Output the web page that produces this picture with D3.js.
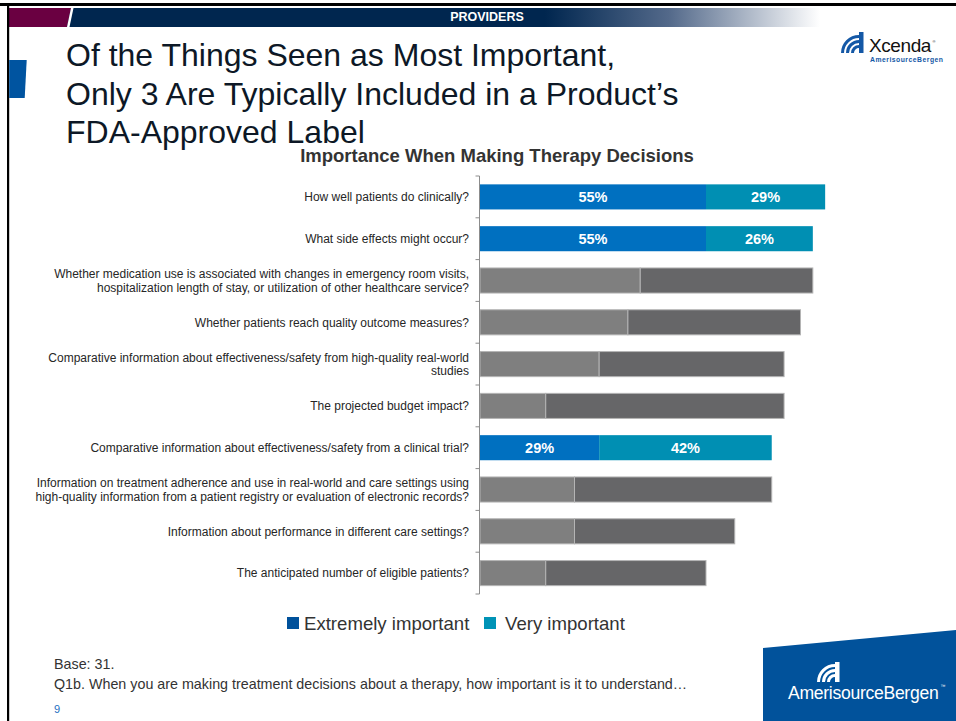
<!DOCTYPE html>
<html>
<head>
<meta charset="utf-8">
<script src="https://cdn.jsdelivr.net/npm/d3@7/dist/d3.min.js"></script>
<style>
  html, body { margin: 0; padding: 0; background: #fff; }
  svg { display: block; font-family: "Liberation Sans", Arial, sans-serif; }
</style>
</head>
<body>
<svg id="slide" width="956" height="721"></svg>
<script>
// Survey items (each entry is the wrapped label lines)
const categories = [
  ["How well patients do clinically?"],
  ["What side effects might occur?"],
  ["Whether medication use is associated with changes in emergency room visits,",
   "hospitalization length of stay, or utilization of other healthcare service?"],
  ["Whether patients reach quality outcome measures?"],
  ["Comparative information about effectiveness/safety from high-quality real-world",
   "studies"],
  ["The projected budget impact?"],
  ["Comparative information about effectiveness/safety from a clinical trial?"],
  ["Information on treatment adherence and use in real-world and care settings using",
   "high-quality information from a patient registry or evaluation of electronic records?"],
  ["Information about performance in different care settings?"],
  ["The anticipated number of eligible patients?"]
];
// Percent of respondents (Base: 31)
const extremelyImportant = [55, 55, 39, 36, 29, 16, 29, 23, 23, 16];
const veryImportant      = [29, 26, 42, 42, 45, 58, 42, 48, 39, 39];
// Items that are typically included in the FDA-approved label
const onLabel = [true, true, false, false, false, false, true, false, false, false];

const seriesNames = ["Extremely important", "Very important"];
const titleLines = [
  "Of the Things Seen as Most Important,",
  "Only 3 Are Typically Included in a Product\u2019s",
  "FDA-Approved Label"
];

const svg = d3.select("#slide");

// ---------- slide frame ----------
const defs = svg.append("defs");
const grad = defs.append("linearGradient").attr("id", "bannerFade")
  .attr("gradientUnits", "userSpaceOnUse")
  .attr("x1", 545).attr("x2", 820).attr("y1", 0).attr("y2", 0);
grad.append("stop").attr("offset", 0).attr("stop-color", "#00264f");
grad.append("stop").attr("offset", 0.45).attr("stop-color", "#53698a");
grad.append("stop").attr("offset", 1).attr("stop-color", "#ffffff");

svg.append("rect").attr("x", 0).attr("y", 0).attr("width", 956).attr("height", 721).attr("fill", "#fff");
// banner
svg.append("rect").attr("x", 9).attr("y", 8).attr("width", 947).attr("height", 19).attr("fill", "url(#bannerFade)");
svg.append("polygon").attr("points", "9,8 71,8 67,27 9,27").attr("fill", "#6a0041");
svg.append("polygon").attr("points", "71,8 73.5,8 69.5,27 67,27").attr("fill", "#fff");
svg.append("text").attr("x", 487).attr("y", 21).attr("text-anchor", "middle")
  .attr("font-size", 12.5).attr("font-weight", "bold").attr("fill", "#fff").text("PROVIDERS");
// black border (top and left)
svg.append("rect").attr("x", 0).attr("y", 3).attr("width", 956).attr("height", 3).attr("fill", "#000");
svg.append("rect").attr("x", 7).attr("y", 3).attr("width", 2.2).attr("height", 718).attr("fill", "#000");
// left accent block
svg.append("polygon").attr("points", "9.2,60 26.7,60 24.7,98 9.2,98").attr("fill", "#0054a0");

// slide title
svg.append("text").attr("x", 66).attr("font-size", 32).attr("fill", "#0d1826")
  .selectAll("tspan").data(titleLines).join("tspan")
  .attr("x", 66).attr("y", (d, i) => 66 + i * 38.6).text(d => d);

// Xcenda logo (top right)
const xl = svg.append("g").attr("transform", "translate(843,31)");
xl.append("rect").attr("x", 16).attr("y", 1).attr("width", 4.5).attr("height", 21).attr("fill", "#1458a6");
[18, 13, 8].forEach(r => {
  xl.append("path")
    .attr("d", d3.arc()({innerRadius: r - 3, outerRadius: r, startAngle: -Math.PI / 2, endAngle: 0}))
    .attr("transform", "translate(16,22)").attr("fill", "#1458a6");
});
const xcWord = xl.append("text").attr("x", 26).attr("y", 21).attr("font-size", 19)
  .attr("letter-spacing", -0.4).attr("fill", "#111").text("Xcenda");
const xcEnd = 26 + xcWord.node().getComputedTextLength();
xl.append("text").attr("x", xcEnd + 1.5).attr("y", 12).attr("font-size", 4).attr("fill", "#111").text("\u00ae");
xl.append("text").attr("x", 27).attr("y", 31).attr("font-size", 6.8).attr("font-weight", "bold")
  .attr("fill", "#1458a6").attr("textLength", 73).text("AmerisourceBergen");

// AmerisourceBergen block (bottom right)
svg.append("polygon").attr("points", "763,648 956,630 956,721 763,721").attr("fill", "#01529b");
const ab = svg.append("g").attr("transform", "translate(819,662)");
ab.append("rect").attr("x", 16).attr("y", 0).attr("width", 4.5).attr("height", 20).attr("fill", "#fff");
[18, 13, 8].forEach(r => {
  ab.append("path")
    .attr("d", d3.arc()({innerRadius: r - 3, outerRadius: r, startAngle: -Math.PI / 2, endAngle: 0}))
    .attr("transform", "translate(16,20)").attr("fill", "#fff");
});
const abWord = svg.append("text").attr("x", 788).attr("y", 699).attr("font-size", 17.6)
  .attr("letter-spacing", -0.3).attr("fill", "#fff").text("AmerisourceBergen");
const abEnd = 788 + abWord.node().getComputedTextLength();
svg.append("text").attr("x", abEnd + 2).attr("y", 688).attr("font-size", 5).attr("fill", "#fff").text("\u2122");

// ---------- chart ----------
svg.append("text").attr("x", 497).attr("y", 162).attr("text-anchor", "middle")
  .attr("font-size", 18.5).attr("font-weight", "bold").attr("fill", "#333")
  .text("Importance When Making Therapy Decisions");

const x = d3.scaleLinear().domain([0, 100]).range([480, 480 + 410.9]);
const y = d3.scaleBand().domain(d3.range(categories.length)).range([176, 594])
  .paddingInner(0.4).paddingOuter(0.2);

const colors = {
  on: ["#0070c0", "#008fb3"],
  off: ["#7f7f7f", "#666668"]
};

const rows = svg.append("g").selectAll("g").data(categories).join("g")
  .attr("transform", (d, i) => `translate(0,${y(i)})`);

rows.each(function (d, i) {
  const g = d3.select(this);
  const segs = [
    {x0: 0, x1: extremelyImportant[i], v: extremelyImportant[i], k: 0},
    {x0: extremelyImportant[i], x1: extremelyImportant[i] + veryImportant[i], v: veryImportant[i], k: 1}
  ];
  const pal = onLabel[i] ? colors.on : colors.off;
  g.selectAll("rect").data(segs).join("rect")
    .attr("x", s => x(s.x0)).attr("width", s => x(s.x1) - x(s.x0))
    .attr("y", 0).attr("height", y.bandwidth())
    .attr("fill", s => pal[s.k])
    .attr("stroke", onLabel[i] ? "none" : "#b4b4b4").attr("stroke-width", 1);
  if (onLabel[i]) {
    g.selectAll("text").data(segs).join("text")
      .attr("x", s => (x(s.x0) + x(s.x1)) / 2).attr("y", y.bandwidth() / 2 + 5.3)
      .attr("text-anchor", "middle").attr("font-size", 14.5).attr("font-weight", "bold")
      .attr("fill", "#fff").text(s => s.v + "%");
  }
});

// category axis
const axis = d3.axisLeft(y).tickSize(0).tickPadding(10).tickFormat(() => "");
const ax = svg.append("g").attr("transform", "translate(479.5,0)").call(axis);
ax.select(".domain").remove();
ax.selectAll(".tick text").remove();
ax.selectAll(".tick").each(function (i) {
  const lines = categories[i];
  const t = d3.select(this).append("text")
    .attr("x", -10.5).attr("text-anchor", "end").attr("font-size", 12).attr("fill", "#262626");
  t.selectAll("tspan").data(lines).join("tspan")
    .attr("x", -10.5)
    .attr("y", (l, j) => 4.3 + (j - (lines.length - 1) / 2) * 13.5)
    .text(l => l);
});
// axis line with ticks on the category boundaries
const step = y.step();
const bounds = d3.range(categories.length + 1).map(i =>
  i < categories.length ? y(i) - step * y.paddingInner() / 2 : y(i - 1) + y.bandwidth() + step * y.paddingInner() / 2);
svg.append("line").attr("x1", 479.5).attr("x2", 479.5)
  .attr("y1", bounds[0]).attr("y2", bounds[bounds.length - 1]).attr("stroke", "#8c8c8c");
svg.append("g").selectAll("line").data(bounds).join("line")
  .attr("x1", 475.5).attr("x2", 479.5).attr("y1", b => b).attr("y2", b => b)
  .attr("stroke", "#8c8c8c");

// legend
const legendColors = ["#00519b", "#0093b6"];
const legendX = [287, 484];
const legendGap = [17, 21];
const lg = svg.append("g").selectAll("g").data(seriesNames).join("g")
  .attr("transform", (d, i) => `translate(${legendX[i]},617)`);
lg.append("rect").attr("width", 12).attr("height", 12).attr("fill", (d, i) => legendColors[i]);
lg.append("text").attr("x", (d, i) => legendGap[i]).attr("y", 12.8).attr("font-size", 18.6)
  .attr("fill", "#333").text(d => d);

// footnotes
svg.append("text").attr("x", 54).attr("y", 669).attr("font-size", 14.3).attr("fill", "#333").text("Base: 31.");
svg.append("text").attr("x", 54).attr("y", 689).attr("font-size", 14.3).attr("fill", "#333")
  .text("Q1b. When you are making treatment decisions about a therapy, how important is it to understand\u2026");
svg.append("text").attr("x", 54).attr("y", 713).attr("font-size", 11).attr("fill", "#1e6fbf").text("9");
</script>
</body>
</html>
